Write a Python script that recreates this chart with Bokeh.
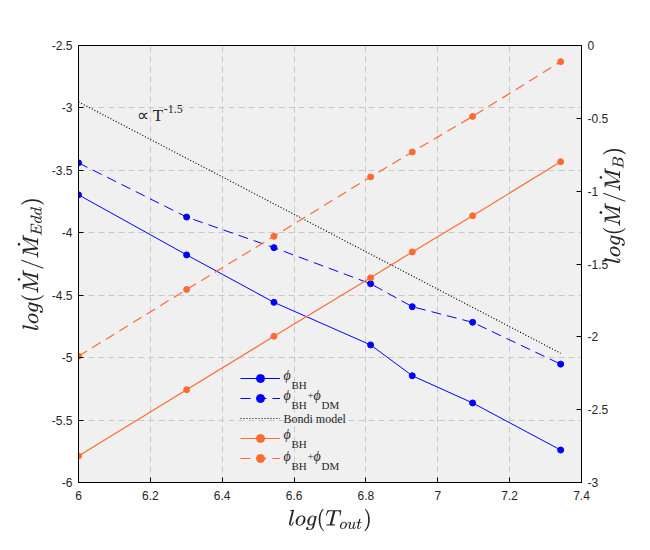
import math
from bokeh.plotting import figure
from bokeh.models import (Range1d, LinearAxis, FixedTicker, CustomJSTickFormatter,
                          Legend, LegendItem, Label, ColumnDataSource)
from bokeh.embed import file_html
from bokeh.resources import INLINE

# ---- data ----
log_T = [6.0, 6.301, 6.544, 6.813, 6.929, 7.097, 7.342]
bh_left = [-3.696, -4.177, -4.557, -4.898, -5.145, -5.363, -5.740]
bhdm_left = [-3.440, -3.874, -4.119, -4.408, -4.592, -4.717, -5.052]
bondi_x = [6.0, 7.342]
bondi_y = [-2.952, -4.965]
bh_right = [-2.818, -2.363, -1.996, -1.595, -1.417, -1.169, -0.798]
bhdm_right = [-2.133, -1.675, -1.310, -0.902, -0.731, -0.487, -0.111]
x_ticks = [6.0, 6.2, 6.4, 6.6, 6.8, 7.0, 7.2, 7.4]
left_ticks = [-6.0, -5.5, -5.0, -4.5, -4.0, -3.5, -3.0, -2.5]
right_ticks = [-3.0, -2.5, -2.0, -1.5, -1.0, -0.5, 0.0]
annot_pos = (6.162, -3.058)

BLUE = "#0000ff"
ORANGE = "#ff6a30"
TICK_FONT = "Liberation Sans"
SERIF = "Liberation Serif"

p = figure(width=642, height=534, output_backend="svg", toolbar_location=None,
           x_range=Range1d(6.0, 7.4), y_range=Range1d(-6.0, -2.5),
           min_border_left=78, min_border_right=54, min_border_top=45, min_border_bottom=50)
p.extra_y_ranges = {"right": Range1d(-3.0, 0.0)}

p.background_fill_color = "#f0f0f0"
p.border_fill_color = "white"
p.outline_line_color = "black"
p.outline_line_width = 1

fmt = CustomJSTickFormatter(code="return String(Math.round(tick*10)/10)")

def style_axis(ax):
    ax.major_tick_in = 5
    ax.major_tick_out = 0
    ax.minor_tick_in = 0
    ax.minor_tick_out = 0
    ax.axis_line_color = "black"
    ax.major_tick_line_color = "black"
    ax.major_label_text_font = TICK_FONT
    ax.major_label_text_font_size = "12px"
    ax.major_label_text_color = "#262626"
    ax.axis_label_text_font_style = "normal"
    ax.axis_label_text_font_size = "19px"
    ax.axis_label_text_color = "#262626"
    ax.formatter = fmt

xa = p.xaxis[0]
xa.ticker = FixedTicker(ticks=x_ticks)
style_axis(xa)
xa.major_label_standoff = 8
xa.axis_label = r"$$log(T_{out})$$"
xa.axis_label_standoff = 6

ya = p.yaxis[0]
ya.ticker = FixedTicker(ticks=left_ticks)
style_axis(ya)
ya.major_label_standoff = 6
ya.axis_label = r"$$log(\dot{M}/\dot{M}_{Edd})$$"
ya.axis_label_standoff = 5

ra = LinearAxis(y_range_name="right", ticker=FixedTicker(ticks=right_ticks))
style_axis(ra)
ra.major_label_standoff = 6
p.add_layout(ra, "right")

# label-only axis for the right-hand title (reads bottom to top, like the left one)
rl = LinearAxis(y_range_name="right", ticker=FixedTicker(ticks=[]))
rl.axis_line_color = None
rl.major_tick_line_color = None
rl.minor_tick_line_color = None
rl.major_tick_in = 0
rl.major_tick_out = 0
rl.minor_tick_in = 0
rl.minor_tick_out = 0
rl.major_label_standoff = 0
rl.major_label_text_font_size = "0px"
rl.axis_label = r"$$log(\dot{M}/\dot{M}_{B})\hspace{4.1em}$$"
rl.axis_label_text_font_size = "18px"
rl.axis_label_text_color = "#262626"
rl.axis_label_text_font_style = "normal"
rl.axis_label_standoff = 0
rl.axis_label_orientation = math.pi / 2
p.add_layout(rl, "right")

for g in (p.xgrid[0], p.ygrid[0]):
    g.grid_line_color = "#c8c8c8"
    g.grid_line_dash = "6 4"
    g.grid_line_width = 1
p.xgrid[0].ticker = FixedTicker(ticks=x_ticks)
p.ygrid[0].ticker = FixedTicker(ticks=left_ticks)

src = ColumnDataSource(dict(x=log_T, bh=bh_left, bhdm=bhdm_left, obh=bh_right, obhdm=bhdm_right))

MS = 6
l1 = p.line("x", "bh", source=src, color=BLUE, line_width=1)
s1 = p.scatter("x", "bh", source=src, size=MS, color=BLUE)
l2 = p.line("x", "bhdm", source=src, color=BLUE, line_width=1, line_dash="10 6")
s2 = p.scatter("x", "bhdm", source=src, size=MS, color=BLUE)
l3 = p.line(bondi_x, bondi_y, color="black", line_width=1.2, line_dash="1 2")
l4 = p.line("x", "obh", source=src, color=ORANGE, line_width=1.2, y_range_name="right")
s4 = p.scatter("x", "obh", source=src, size=MS, color=ORANGE, y_range_name="right")
l5 = p.line("x", "obhdm", source=src, color=ORANGE, line_width=1.2, line_dash="10 6", y_range_name="right")
s5 = p.scatter("x", "obhdm", source=src, size=MS, color=ORANGE, y_range_name="right")

legend = Legend(items=[
    LegendItem(label=" ", renderers=[l1, s1]),
    LegendItem(label=" ", renderers=[l2, s2]),
    LegendItem(label=" ", renderers=[l3]),
    LegendItem(label=" ", renderers=[l4, s4]),
    LegendItem(label=" ", renderers=[l5, s5]),
], location=(162, 14), padding=0, margin=0, spacing=0, glyph_width=40, glyph_height=20,
   label_height=20, label_standoff=3, background_fill_alpha=0, border_line_alpha=0,
   label_text_font_size="6px")
p.add_layout(legend, "center")

# legend texts (screen units from frame bottom-left)
row_y = [104, 84, 64, 45, 23]
x0 = 205

def lab(x, y, text, size, style="normal", baseline="middle"):
    p.add_layout(Label(x=x, y=y, x_units="screen", y_units="screen", text=text,
                       text_font=SERIF, text_font_size=size, text_font_style=style,
                       text_color="#262626", text_baseline=baseline, text_align="left"))

def phi_bh(y):
    lab(x0, y + 3, "ϕ", "14px", "italic")
    lab(x0 + 8, y - 6, "BH", "11px")

def phi_bhdm(y):
    phi_bh(y)
    lab(x0 + 24, y + 3, "+", "11px")
    lab(x0 + 30, y + 3, "ϕ", "14px", "italic")
    lab(x0 + 38, y - 6, "DM", "11px")

phi_bh(row_y[0])
phi_bhdm(row_y[1])
lab(x0, row_y[2], "Bondi model", "12px")
phi_bh(row_y[3])
phi_bhdm(row_y[4])

# annotation
p.add_layout(Label(x=annot_pos[0], y=annot_pos[1], text="∝ T", text_font=SERIF,
                   text_font_size="17px", text_color="#262626", text_baseline="alphabetic"))
p.add_layout(Label(x=annot_pos[0], y=annot_pos[1], x_offset=27, y_offset=6, text="-1.5",
                   text_font=SERIF, text_font_size="12px", text_color="#262626",
                   text_baseline="alphabetic"))

open("out.html", "w").write(file_html(p, INLINE))
